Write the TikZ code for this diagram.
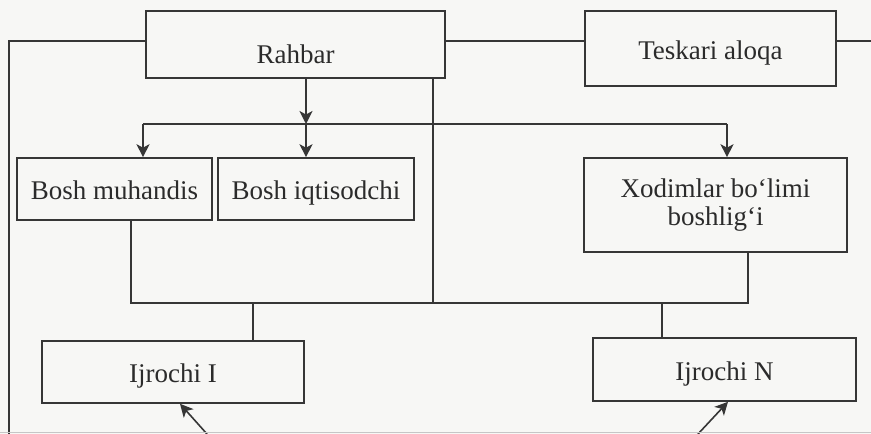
\documentclass[tikz,border=0pt]{standalone}
\usepackage{fontspec}
\setmainfont{Liberation Serif}
\usetikzlibrary{arrows.meta}
\definecolor{ink}{HTML}{363636}
\definecolor{paper}{HTML}{F7F7F5}
\begin{document}
\begin{tikzpicture}[x=1pt,y=-1pt,
  box/.style={draw=ink, line width=1.6pt, rectangle, inner sep=0pt, text=ink!80!black,
              font=\fontsize{27}{28}\selectfont, align=center},
  tb/.style={text height=#1, text depth=0pt},
  conn/.style={draw=ink, line width=1.6pt},
  arr/.style={conn, -{Stealth[length=13pt,width=13pt,inset=3.5pt]}}]
\fill[paper] (0,0) rectangle (871,434);
\useasboundingbox (0,0) rectangle (871,434);
% nodes
\node[box, tb=37pt, minimum width=299pt, minimum height=67pt] (rahbar) at (295.5,44.5) {Rahbar};
\node[box, tb=21pt, minimum width=251pt, minimum height=75pt] (tesk) at (710.5,48.5) {Teskari aloqa};
\node[box, tb=20pt, minimum width=195pt, minimum height=62pt] (muh) at (114.5,189) {Bosh muhandis};
\node[box, tb=20pt, minimum width=196pt, minimum height=62pt] (iqt) at (316,189) {Bosh iqtisodchi};
\node[box, minimum width=263pt, minimum height=94pt] (xod) at (715.5,205) {Xodimlar bo‘limi\\boshlig‘i};
\node[box, tb=20pt, minimum width=262pt, minimum height=62pt] (ij1) at (173,372) {Ijrochi I};
\node[box, tb=21pt, minimum width=263pt, minimum height=63pt] (ijN) at (724.5,369.5) {Ijrochi N};
% coordinates
\coordinate (lt) at (9,41);
\coordinate (lb) at (9,434);
\coordinate (rt) at (871,41);
\coordinate (busA) at (143,124);
\coordinate (j1) at (306,124);
\coordinate (busB) at (727,124);
\coordinate (busL) at (131,303);
\coordinate (busR) at (748,303);
\coordinate (rv) at (433,303);
\coordinate (d1) at (253,303);
\coordinate (dN) at (662,303);
\coordinate (s1) at (207,434);
\coordinate (t1) at (180,0);
\coordinate (sN) at (698,434);
\coordinate (tN) at (728,0);
% connectors
\draw[conn] (rahbar.west |- lt) -- (lt) -- (lb);
\draw[conn] (rahbar.east |- rt) -- (tesk.west |- rt);
\draw[conn] (tesk.east |- rt) -- (rt);
\draw[arr] (rahbar.south -| j1) -- (j1);
\draw[conn] (busA) -- (busB);
\draw[arr] (busA) -- (busA |- muh.north);
\draw[arr] (j1) -- (j1 |- iqt.north);
\draw[arr] (busB) -- (busB |- xod.north);
\draw[conn] (muh.south -| busL) -- (busL) -- (busR) -- (xod.south -| busR);
\draw[conn] (rahbar.south -| rv) -- (rv);
\draw[conn] (d1) -- (d1 |- ij1.north);
\draw[conn] (dN) -- (dN |- ijN.north);
\draw[arr] (s1) -- (ij1.south -| t1);
\draw[arr] (sN) -- (ijN.south -| tN);
\draw[gray!45, line width=1pt] (0,432.5) -- (871,432.5);
\end{tikzpicture}
\end{document}
